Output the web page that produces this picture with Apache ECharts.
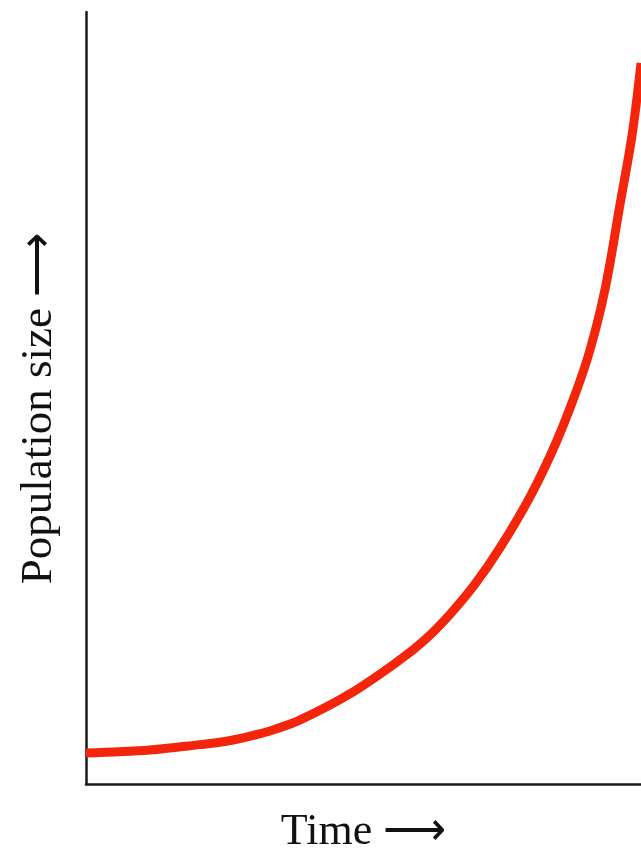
<!DOCTYPE html>
<html>
<head>
<meta charset="utf-8">
<script src="https://cdn.jsdelivr.net/npm/echarts@6/dist/echarts.min.js"></script>
<style>
  html, body { margin: 0; padding: 0; background: #fff; }
  #chart { width: 641px; height: 849px; }
</style>
</head>
<body>
<div id="chart"></div>
<script>
// time (0-100) and population size (0-100)
var timeValues = [0, 11.5, 20.5, 25.0, 29.6, 34.1, 38.6, 47.6, 56.6, 61.1, 65.6, 70.1, 74.6, 80.0, 84.5, 88.1, 90.8, 93.5, 96.2, 98.4, 100];
var popValues  = [4.0, 4.4, 5.1, 5.5, 6.2, 7.1, 8.3, 11.7, 16.1, 18.7, 22.0, 25.9, 30.6, 37.2, 43.9, 50.4, 56.2, 64.0, 75.0, 84.1, 93.4];
var xName = 'Time ⟶';
var yName = 'Population size ⟶';

var chart = echarts.init(document.getElementById('chart'));

var axisCommon = {
    type: 'value',
    min: 0,
    max: 100,
    nameLocation: 'middle',
    axisLine: {
        show: true,
        lineStyle: { color: '#1a1a1a', width: 2.5 }
    },
    axisTick: { show: false },
    axisLabel: { show: false },
    splitLine: { show: false }
};

chart.setOption({
    backgroundColor: '#fff',
    animation: false,
    grid: {
        left: 86,
        right: 0,
        top: 12,
        bottom: 65,
        containLabel: false,
        outerBoundsMode: 'none'
    },
    xAxis: Object.assign({}, axisCommon, {
        name: xName,
        nameGap: 26,
        nameTextStyle: {
            color: '#111',
            fontFamily: 'Liberation Serif',
            fontSize: 44
        }
    }),
    yAxis: Object.assign({}, axisCommon, {
        name: yName,
        nameGap: 24,
        nameTextStyle: {
            color: '#111',
            fontFamily: 'Liberation Serif',
            fontSize: 45,
            padding: [0, 20, 0, 0]
        }
    }),
    series: [
        {
            type: 'line',
            data: timeValues.map(function (t, i) { return [t, popValues[i]]; }),
            smooth: 0.35,
            symbol: 'none',
            lineStyle: { color: '#f3260c', width: 9 }
        }
    ]
});
</script>
</body>
</html>
